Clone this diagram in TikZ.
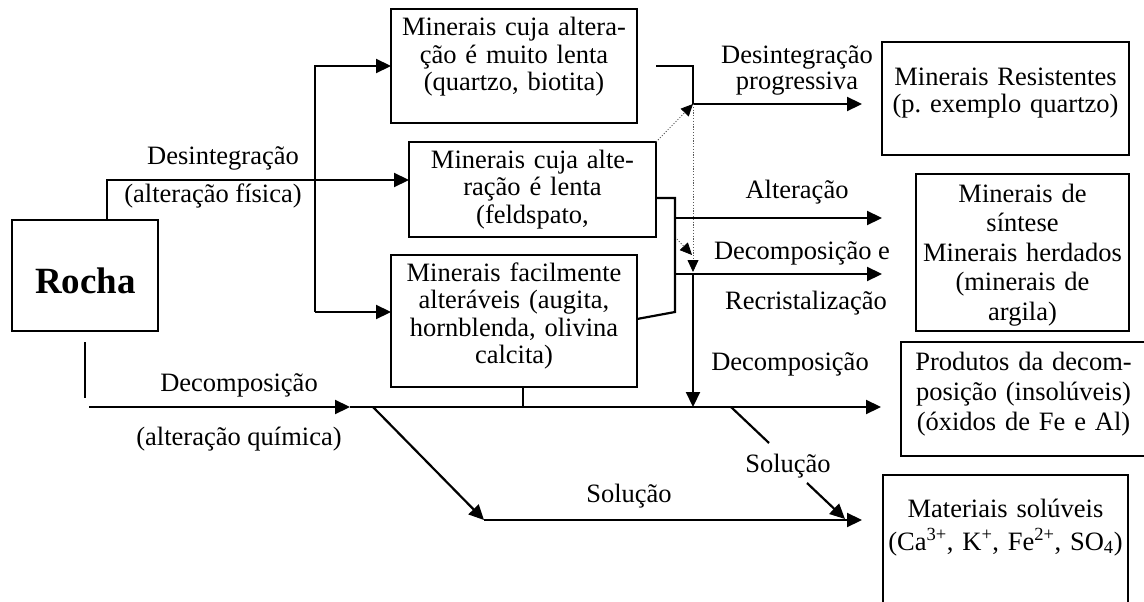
\documentclass[tikz,border=0pt]{standalone}
\usepackage{fontspec}
\setmainfont{Liberation Serif}
\usetikzlibrary{arrows.meta}
\begin{document}
\begin{tikzpicture}[x=1pt,y=-1pt,
  box/.style={draw, line width=2.2pt, inner sep=0pt, outer sep=0pt},
  ln/.style={line width=2.2pt},
  arr/.style={line width=2.2pt, -{Triangle[length=15pt,width=14pt]}},
  dotln/.style={line width=0.8pt, gray!70!black, dash pattern=on 1.2pt off 1.6pt, -{Triangle[length=12pt,width=11pt,color=black]}},
  txt/.style={font=\fontsize{26.5}{27.5}\selectfont, inner sep=0pt, anchor=base, text width=300pt, align=center},
  lbl/.style={font=\fontsize{26.5}{27.5}\selectfont, inner sep=0pt, anchor=base},
]
\path[use as bounding box] (0,0) rectangle (1144,602);
\clip (0,0) rectangle (1144,602);

% boxes
\node[box, minimum width=146pt, minimum height=111pt] (R) at (85,275.5) {};
\node[box, minimum width=246pt, minimum height=114pt] (A) at (514,66) {};
\node[box, minimum width=247pt, minimum height=95pt] (B) at (532.5,189.5) {};
\node[box, minimum width=246pt, minimum height=132pt] (C) at (514,321) {};
\node[box, minimum width=247pt, minimum height=113pt] (D) at (1005.5,98.5) {};
\node[box, minimum width=213pt, minimum height=157pt] (E) at (1022.5,252.5) {};
\node[box, minimum width=245pt, minimum height=114pt] (F) at (1023.5,399) {};
\node[box, minimum width=245pt, minimum height=170pt] (G) at (1005.5,560) {};

% box texts
\node[lbl, font=\fontsize{37}{40}\selectfont\bfseries] (tR) at (85.5,293) {Rocha};
\node[txt] (tA) at (514,36) {Minerais cuja altera-\\ção é muito lenta\\(quartzo, biotita)};
\node[txt] (tB) at (532.5,168) {Minerais cuja alte-\\ração é lenta\\(feldspato,};
\node[txt] (tC) at (514,281) {Minerais facilmente\\alteráveis (augita,\\hornblenda, olivina\\calcita)};
\node[txt, font=\fontsize{26.5}{26}\selectfont] (tD) at (1005.5,86) {Minerais Resistentes\\(p.\ exemplo quartzo)};
\node[txt, font=\fontsize{26.5}{29.5}\selectfont] (tE) at (1022.5,202) {Minerais de\\síntese\\Minerais herdados\\(minerais de\\argila)};
\node[txt, font=\fontsize{26.5}{30}\selectfont] (tF) at (1023.5,370) {Produtos da decom-\\posição (insolúveis)\\(óxidos de Fe e Al)};
\node[txt, font=\fontsize{26.5}{33}\selectfont] (tG) at (1005.5,517) {Materiais solúveis\\(Ca\textsuperscript{3+}, K\textsuperscript{+}, Fe\textsuperscript{2+}, SO\textsubscript{4})};

% labels
\node[lbl] (l1) at (223,164) {Desintegração};
\node[lbl] (l2) at (213,202) {(alteração física)};
\node[lbl] (l3) at (797,63.5) {Desintegração};
\node[lbl] (l4) at (797,89.5) {progressiva};
\node[lbl] (l5) at (797,198) {Alteração};
\node[lbl] (l6) at (802,259) {Decomposição e};
\node[lbl] (l7) at (806,309) {Recristalização};
\node[lbl] (l8) at (790,370) {Decomposição};
\node[lbl] (l9) at (239,391) {Decomposição};
\node[lbl] (l10) at (239,445) {(alteração química)};
\node[lbl] (l11) at (629,502) {Solução};
\node[lbl] (l12) at (788,472) {Solução};

% coordinates
\coordinate (r1) at (107,220);
\coordinate (r2) at (107,180);
\coordinate (s1) at (315,66);
\coordinate (s2) at (315,312);
\coordinate (a1) at (656,66);
\coordinate (a2) at (693,66);
\coordinate (a3) at (693,104);
\coordinate (a4) at (862,104);
\coordinate (d1) at (693,272);
\coordinate (d2) at (675,237);
\coordinate (d3) at (692,255);
\coordinate (b1) at (656,198);
\coordinate (b2) at (675,198);
\coordinate (b3) at (675,312);
\coordinate (c1) at (637,319);
\coordinate (e1) at (675,218);
\coordinate (e2) at (882,218);
\coordinate (e3) at (675,274);
\coordinate (e4) at (882,274);
\coordinate (v1) at (693,274);
\coordinate (v2) at (693,407);
\coordinate (m0a) at (85,342);
\coordinate (m0b) at (85,398);
\coordinate (m1) at (89,407);
\coordinate (m2) at (350,407);
\coordinate (m3) at (881,407);
\coordinate (c2) at (523,387);
\coordinate (k1) at (373,407);
\coordinate (k2) at (484,520);
\coordinate (k3) at (862,520);
\coordinate (k4) at (731,407);
\coordinate (k5) at (769,443);
\coordinate (k6) at (807,483);
\coordinate (k7) at (845,519);

% connectors
\draw[arr] (r1) -- (r2) -- (r2 -| B.west);
\draw[arr] (s2) -- (s1) -- (A.west);
\draw[arr] (s2) -- (s2 -| C.west);
\draw[arr] (a1) -- (a2) -- (a3) -- (a4);
\draw[dotln] (B.north east) -- (a3);
\draw[dotln] (a3) -- (d1);
\draw[dotln] (d2) -- (d3);
\draw[ln] (b1) -- (b2) -- (b3) -- (c1);
\draw[arr] (e1) -- (e2);
\draw[arr] (e3) -- (e4);
\draw[arr] (v1) -- (v2);
\draw[ln] (m0a) -- (m0b);
\draw[arr] (m1) -- (m2);
\draw[arr] (m2) -- (m3);
\draw[ln] (c2) -- (c2 |- m2);
\draw[arr] (k1) -- (k2);
\draw[arr] (k2) -- (k3);
\draw[ln] (k4) -- (k5);
\draw[arr] (k6) -- (k7);
\end{tikzpicture}
\end{document}
